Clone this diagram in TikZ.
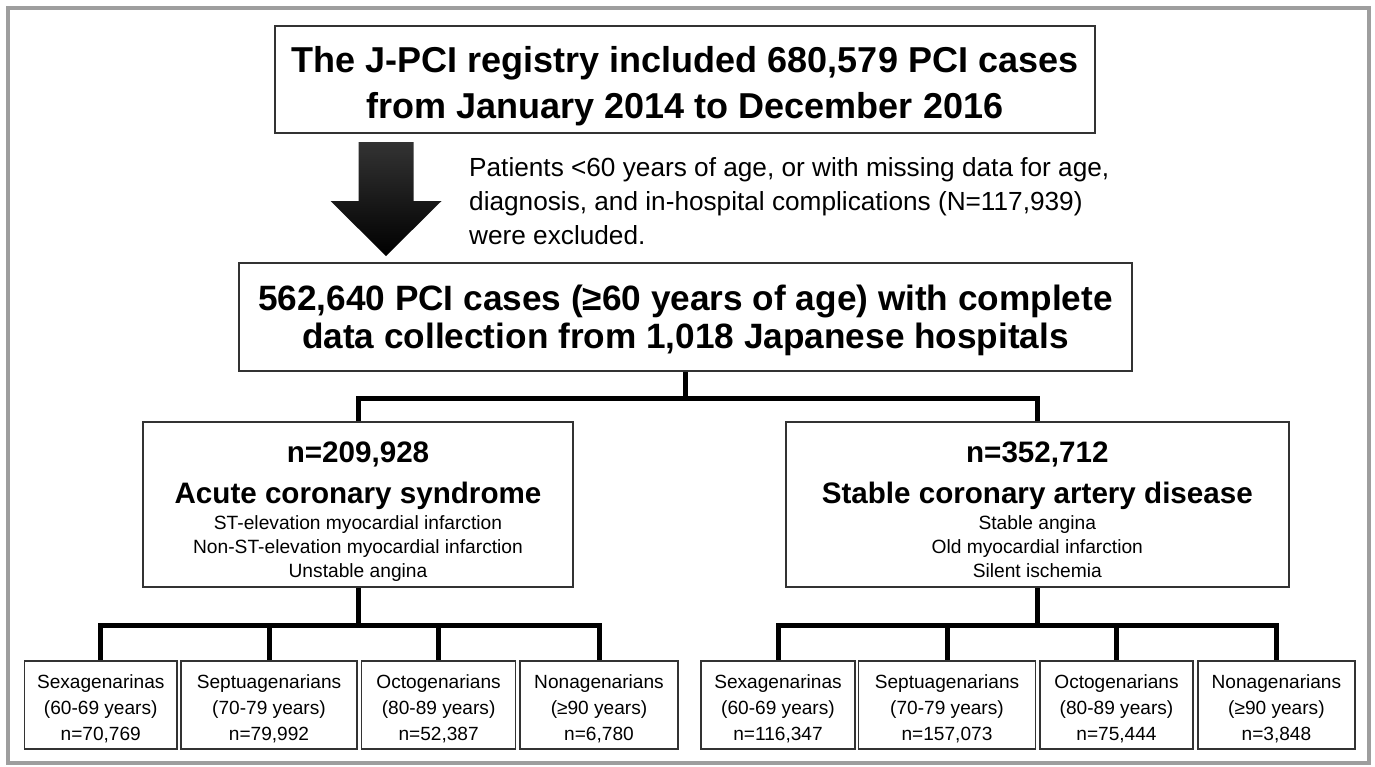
\documentclass[tikz,border=0pt]{standalone}
\usepackage{fontspec}
\setmainfont{Liberation Sans}
\setlength{\lineskiplimit}{-100pt}

\newcommand{\topgap}[1]{\rule{0pt}{#1}}
\newcommand{\botgap}[1]{\rule[-#1]{0pt}{#1}}
\newcommand{\headfont}{\bfseries\fontsize{29.6}{41}\selectfont}

\begin{document}
\begin{tikzpicture}[x=1pt, y=-1pt,
    box/.style={draw=black!80, line width=1.5pt, align=center, inner sep=0pt},
    group/.style={box, minimum width=#1, font=\fontsize{19.2}{24}\selectfont},
    agebox/.style={box, minimum width=#1, font=\fontsize{19.1}{26}\selectfont},
    tree/.style={line width=5pt}]
    \useasboundingbox (0,0) rectangle (1375,766);
    \draw[black!38, line width=4pt] (8,8) rectangle (1369,763);

    % registry and study population
    \node[box, minimum width=820pt, font=\bfseries\fontsize{36}{46}\selectfont] (registry) at (685,79.5)
        {\topgap{46pt}The J-PCI registry included 680,579 PCI cases\\from January 2014 to December 2016\botgap{15pt}};
    \node[box, minimum width=893pt, font=\bfseries\fontsize{35.2}{38}\selectfont] (cohort) at (685.5,317)
        {\topgap{47pt}562,640 PCI cases (≥60 years of age) with complete\\data collection from 1,018 Japanese hospitals\botgap{23pt}};

    \coordinate (arrowtop) at (386,142);
    \shade[top color=black!80, bottom color=black] (arrowtop) ++(-27.5,0) -- ++(55,0) -- ++(0,59) -- ++(28,0)
        -- ++(-55.5,55) -- ++(-55.5,-55) -- ++(28,0) -- cycle;
    \node[anchor=north west, align=left, inner sep=0pt, font=\fontsize{26.2}{34}\selectfont] (excluded) at (469,142)
        {\topgap{34pt}Patients <60 years of age, or with missing data for age,\\diagnosis, and in-hospital complications (N=117,939)\\were excluded.};

    % diagnosis groups
    \node[group=430pt] (acs) at (358,504.5)
        {\topgap{40pt}\headfont n=209,928\\[17pt]\headfont Acute coronary syndrome\\[2pt]ST-elevation myocardial infarction\\Non-ST-elevation myocardial infarction\\Unstable angina\botgap{10pt}};
    \node[group=503pt] (scad) at (1037.3,504.5)
        {\topgap{40pt}\headfont n=352,712\\[17pt]\headfont Stable coronary artery disease\\[2pt]Stable angina\\Old myocardial infarction\\Silent ischemia\botgap{10pt}};

    \draw[tree] (cohort.south) -- ++(0,27) coordinate (split);
    \draw[tree] (acs.north) |- (split) -| (scad.north);

    % age groups
    \foreach \id/\cx/\w/\age/\yrs/\num in {
        a1/100.75/152.5/Sexagenarinas/60-69 years/{n=70,769},
        a2/269/176/Septuagenarians/70-79 years/{n=79,992},
        a3/438.6/154/Octogenarians/80-89 years/{n=52,387},
        a4/599/158/Nonagenarians/≥90 years/{n=6,780},
        s1/778/154/Sexagenarinas/60-69 years/{n=116,347},
        s2/947/177/Septuagenarians/70-79 years/{n=157,073},
        s3/1116.5/153/Octogenarians/80-89 years/{n=75,444},
        s4/1276.4/157/Nonagenarians/≥90 years/{n=3,848}}
        \node[agebox=\w pt] (\id) at (\cx,705) {\topgap{27pt}\age\\(\yrs)\\\num\botgap{9pt}};

    \draw[tree] (acs.south) -- ++(0,38) coordinate (acssplit);
    \draw[tree] (scad.south) -- ++(0,38) coordinate (scadsplit);
    \foreach \i in {1,...,4} {
        \draw[tree] (acssplit) -| (a\i.north);
        \draw[tree] (scadsplit) -| (s\i.north);
    }
\end{tikzpicture}
\end{document}
